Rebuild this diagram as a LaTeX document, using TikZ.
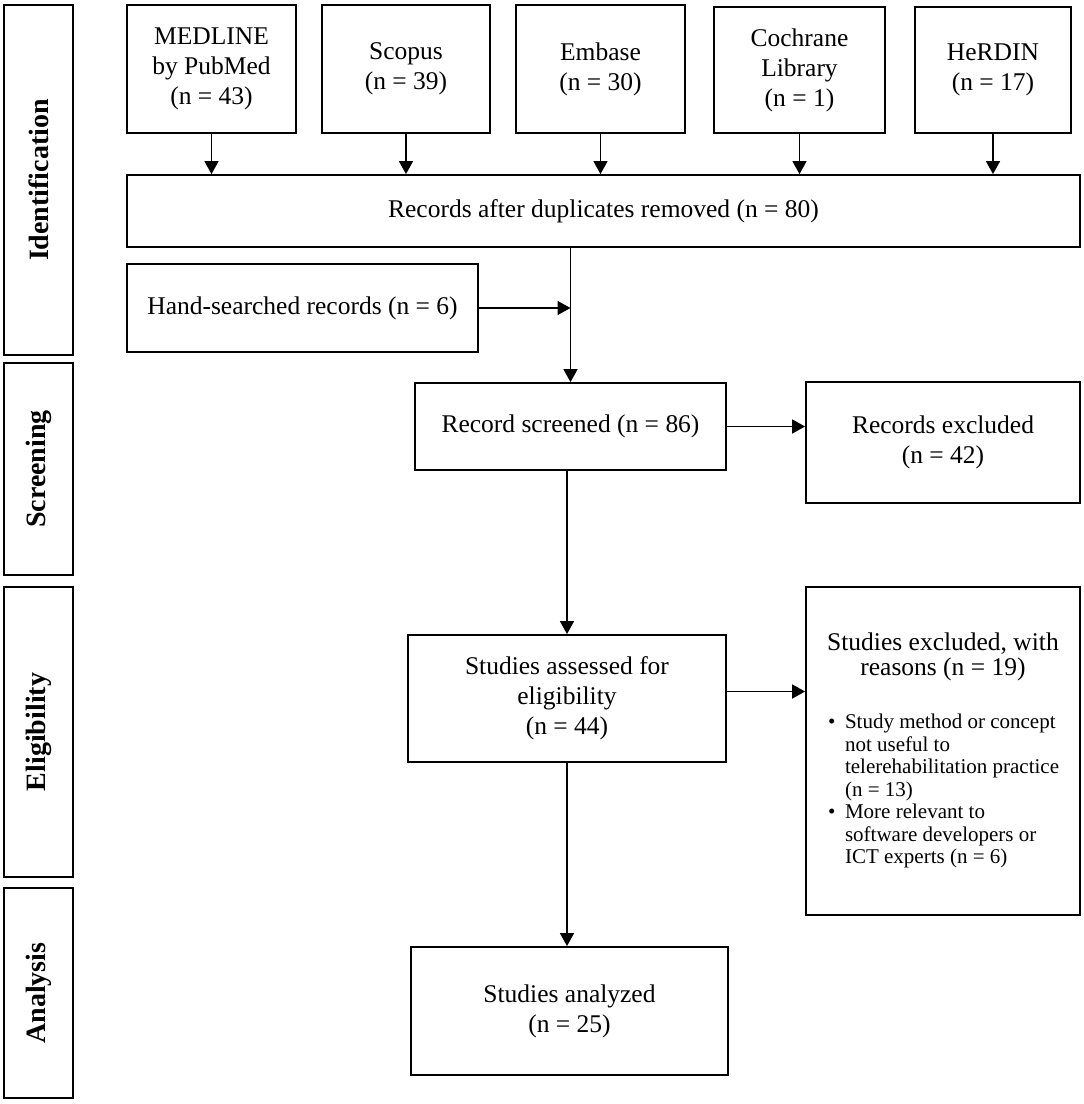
\documentclass[tikz,border=0pt]{standalone}
\usepackage{fontspec}
\usepackage{graphicx}
\setmainfont{Liberation Serif}
\usetikzlibrary{arrows.meta}
\newcommand\mainfs{\fontsize{25.5}{30}\selectfont}
\newcommand\titlefs{\fontsize{25.5}{25.5}\selectfont}
\newcommand\phasefs{\fontsize{28}{30}\selectfont\bfseries}
\newcommand\listfs{\fontsize{21}{22.5}\selectfont}
\begin{document}
\begin{tikzpicture}[x=1pt,y=-1pt,
  box/.style={draw, line width=1.8pt, inner sep=0pt, align=center, font=\mainfs},
  phase/.style={draw, line width=2.4pt, inner sep=0pt, minimum width=69pt},
  arr/.style={line width=1.6pt, -{Triangle[length=13pt,width=14pt]}},
  plain/.style={inner sep=0pt, align=center}
  ]
\useasboundingbox (0,0) rectangle (1084,1104);

% phase boxes
\node[phase, minimum height=350pt] (idp) at (38.5,180) {\rotatebox{90}{\phasefs Identification}};
\node[phase, minimum height=212pt] (scp) at (38.5,469) {\rotatebox{90}{\phasefs Screening}};
\node[phase, minimum height=290pt] (elp) at (38.5,732) {\rotatebox{90}{\phasefs Eligibility}};
\node[phase, minimum height=210pt] (anp) at (38.5,993) {\rotatebox{90}{\phasefs Analysis}};

% sources
\node[box, minimum width=169pt, minimum height=128pt] (medline) at (211.5,69) {MEDLINE\\by PubMed\\(n = 43)};
\node[box, minimum width=168pt, minimum height=128pt] (scopus) at (406,69) {Scopus\\(n = 39)};
\node[box, minimum width=169pt, minimum height=128pt] (embase) at (600.5,69) {Embase\\(n = 30)};
\node[box, minimum width=171pt, minimum height=126pt] (cochrane) at (799.5,70) {Cochrane\\Library\\(n = 1)};
\node[box, minimum width=156pt, minimum height=126pt] (herdin) at (993,70) {HeRDIN\\(n = 17)};

\node[box, minimum width=953pt, minimum height=72pt] (dup) at (603.5,211) {Records after duplicates removed (n = 80)};
\node[box, minimum width=351pt, minimum height=88pt] (hand) at (302.5,308) {Hand-searched records (n = 6)};
\node[box, minimum width=311pt, minimum height=87pt] (screened) at (570.5,426.5) {Record screened (n = 86)};
\node[box, minimum width=274pt, minimum height=121pt] (excl1) at (943,442.5) {Records excluded\\(n = 42)};
\node[box, minimum width=318pt, minimum height=127pt] (assessed) at (567,698.5) {Studies assessed for\\eligibility\\(n = 44)};
\node[box, minimum width=274pt, minimum height=328pt] (excl2) at (943,751) {};
\node[plain, font=\titlefs] (excl2title) at (943,657) {Studies excluded, with\\reasons (n = 19)};
\node[plain, anchor=north west, font=\listfs] (excl2list) at (828,713) {%
  \begin{tabular}[t]{@{}l@{\hspace{9.5pt}}l@{}}
  \textbullet & Study method or concept\\
   & not useful to\\
   & telerehabilitation practice\\
   & (n = 13)\\
  \textbullet & More relevant to\\
   & software developers or\\
   & ICT experts (n = 6)
  \end{tabular}};
\node[box, minimum width=317pt, minimum height=128pt] (analyzed) at (569.5,1011) {Studies analyzed\\(n = 25)};

% connectors
\foreach \s in {medline,scopus,embase,cochrane,herdin}
  \draw[arr] (\s.south) -- (\s.south |- dup.north);
\draw[arr] (dup.south -| screened.north) -- (screened.north);
\draw[arr] (hand.east) -- (hand.east -| screened.north);
\draw[arr] (screened.east) -- (screened.east -| excl1.west);
\draw[arr] (screened.south -| assessed.north) -- (assessed.north);
\draw[arr] ([yshift=7pt]assessed.east) -- ([yshift=7pt]assessed.east -| excl2.west);
\draw[arr] (assessed.south) -- (assessed.south |- analyzed.north);
\end{tikzpicture}
\end{document}
